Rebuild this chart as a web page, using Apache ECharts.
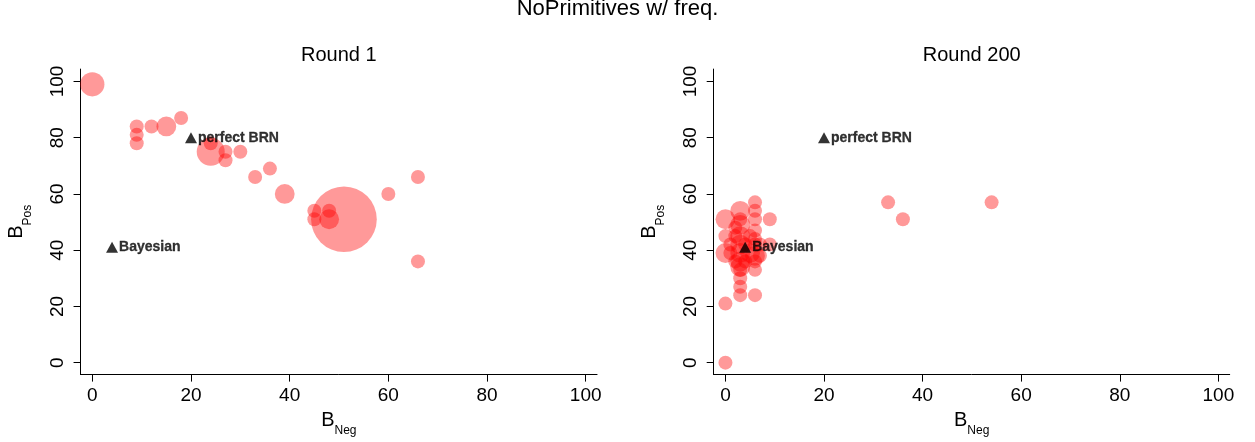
<!DOCTYPE html>
<html>
<head>
<meta charset="utf-8">
<script src="https://cdn.jsdelivr.net/npm/echarts@6/dist/echarts.min.js"></script>
<style>html,body{margin:0;padding:0;background:#fff}#c{width:1255px;height:442px}</style>
</head>
<body>
<div id="c"></div>
<script>
// [B_Neg, B_Pos, frequency]
const roundOnePoints = [
  [0,99,3],[9,84,1],[9,81,1],[9,78,1],[12,84,1],[15,84,2],[18,87,1],
  [24,78,1],[24,75,4],[27,75,1],[27,72,1],[30,75,1],[33,66,1],[36,69,1],
  [39,60,2],[45,54,1],[45,51,1],[48,54,1],[48,51,2],[51,51,22],
  [60,60,1],[66,66,1],[66,36,1]
];
const roundTwoHundredPoints = [
  [0,0,1],[0,21,1],[0,39,2],[0,45,1],[0,51,2],[1,39,1],[1,42,1],
  [2,36,1],[2,45,1],[2,48,1],
  [3,24,1],[3,27,1],[3,30,1],[3,33,1],[3,34,2],[3,36,2],[3,39,2],
  [3,42,2],[3,45,2],[3,49,2],[3,51,1],[3,54,2],
  [4,36,1],[4,42,1],[5,39,2],[5,45,1],
  [6,24,1],[6,33,1],[6,36,1],[6,38,2],[6,42,1],[6,44,1],[6,47,1],
  [6,51,1],[6,54,1],[6,57,1],
  [7,38,1],[7,42,1],[9,42,1],[9,51,1],[33,57,1],[36,51,1],[54,57,1]
];
const refLabels = ['perfect BRN', 'Bayesian'];
const refX = [20, 4];
const refY = [80, 41];
const tickValues = [0, 20, 40, 60, 80, 100];
const mainTitle = 'NoPrimitives w/ freq.';
const panelTitles = ['Round 1', 'Round 200'];

const FONT = '"Liberation Sans", Arial, Helvetica, sans-serif';
const chart = echarts.init(document.getElementById('c'));

const refData = refLabels.map((n, i) => ({ name: n, value: [refX[i], refY[i]] }));

const nameRich = {
  b: { fontSize: 20, lineHeight: 20, verticalAlign: 'top', color: '#000', fontFamily: FONT },
  s: { fontSize: 12, lineHeight: 12, verticalAlign: 'top', padding: [15, 0, 0, 0], color: '#000', fontFamily: FONT }
};

function xAxisFor(gi) {
  return {
    type: 'value', gridIndex: gi, min: -2.38, max: 102.3,
    axisLine: { show: true, onZero: false, lineStyle: { color: '#000', width: 1 } },
    axisTick: { show: true, length: 7, customValues: tickValues, lineStyle: { color: '#000', width: 1 } },
    axisLabel: { customValues: tickValues, fontSize: 19, color: '#000', fontFamily: FONT, margin: 11.5 },
    splitLine: { show: false },
    name: '{b|B}{s|Neg}', nameLocation: 'middle', nameGap: 34,
    nameTextStyle: { color: '#000', fontFamily: FONT, rich: nameRich }
  };
}
function yAxisFor(gi) {
  return {
    type: 'value', gridIndex: gi, min: -4.25, max: 104.4,
    axisLine: { show: true, onZero: false, lineStyle: { color: '#000', width: 1 } },
    axisTick: { show: true, length: 7, customValues: tickValues, lineStyle: { color: '#000', width: 1 } },
    axisLabel: { customValues: tickValues, fontSize: 19, color: '#000', fontFamily: FONT, margin: 13, rotate: 90 },
    splitLine: { show: false },
    name: '{b|B}{s|Pos}', nameLocation: 'middle', nameGap: 54, nameRotate: 90,
    nameTextStyle: { color: '#000', fontFamily: FONT, rich: nameRich }
  };
}
function bubbleSeries(gi, data) {
  return {
    type: 'scatter', xAxisIndex: gi, yAxisIndex: gi, data: data,
    symbol: 'circle',
    symbolSize: v => 14 * Math.sqrt(v[2]),
    itemStyle: { color: 'rgba(255,0,0,0.5)', borderWidth: 0 },
    emphasis: { disabled: true }, z: 2
  };
}
function refSeries(gi) {
  return {
    type: 'scatter', xAxisIndex: gi, yAxisIndex: gi, data: refData,
    symbol: 'triangle', symbolSize: [12, 11],
    itemStyle: { color: '#000' },
    label: {
      show: true, position: 'right', distance: 1, formatter: '{b}',
      color: '#000', fontSize: 14, fontWeight: 'bold', fontFamily: FONT,
      textBorderColor: '#000', textBorderWidth: 0.3
    },
    emphasis: { disabled: true }, z: 5
  };
}

chart.setOption({
  animation: false,
  backgroundColor: '#fff',
  title: [
    { text: mainTitle, left: 617.5, top: -2, textAlign: 'center', padding: 0,
      textStyle: { fontSize: 22, fontWeight: 'normal', color: '#000', fontFamily: FONT } },
    { text: panelTitles[0], left: 338.8, top: 45, textAlign: 'center', padding: 0,
      textStyle: { fontSize: 20, fontWeight: 'normal', color: '#000', fontFamily: FONT } },
    { text: panelTitles[1], left: 971.7, top: 45, textAlign: 'center', padding: 0,
      textStyle: { fontSize: 20, fontWeight: 'normal', color: '#000', fontFamily: FONT } }
  ],
  grid: [
    { left: 80.56, top: 69.07, width: 516.5, height: 306.9 },
    { left: 713.7, top: 69.07, width: 516, height: 306.9 }
  ],
  xAxis: [xAxisFor(0), xAxisFor(1)],
  yAxis: [yAxisFor(0), yAxisFor(1)],
  series: [
    bubbleSeries(0, roundOnePoints),
    bubbleSeries(1, roundTwoHundredPoints),
    refSeries(0),
    refSeries(1)
  ]
});
</script>
</body>
</html>
